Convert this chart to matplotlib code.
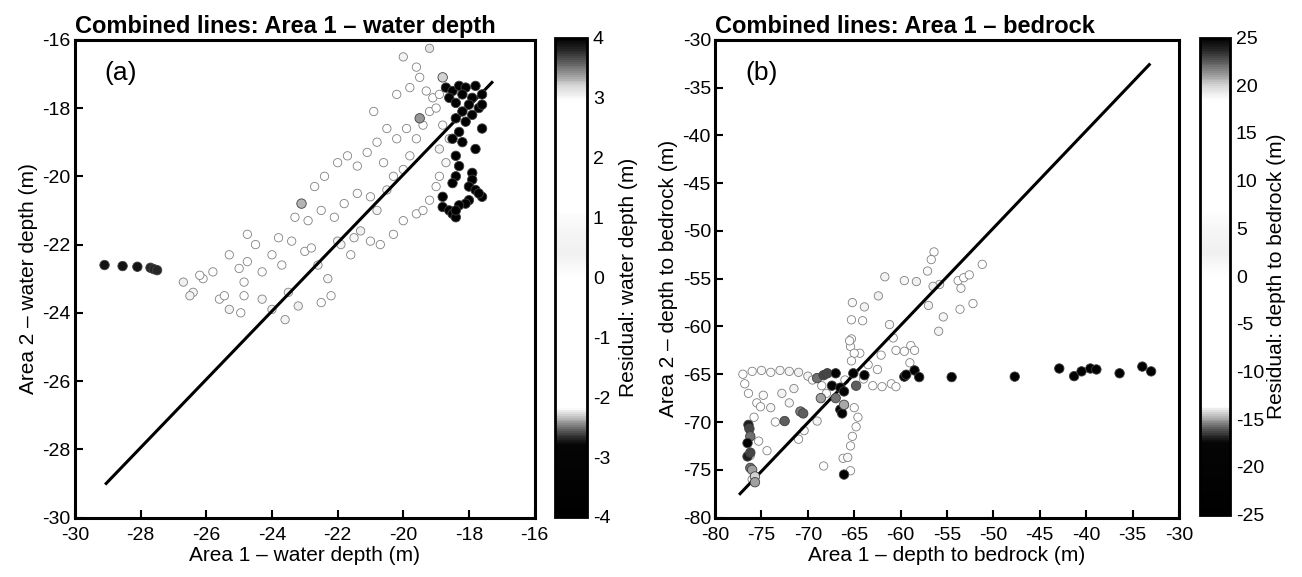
import numpy as np
import matplotlib
matplotlib.use('Agg')
import matplotlib.pyplot as plt
from matplotlib.colors import LinearSegmentedColormap

plt.rcParams['font.family'] = ['Liberation Sans', 'DejaVu Sans']
plt.rcParams['axes.unicode_minus'] = False

# ---- panel (a): water depth ----
# light points (small residual)
wa_x = [-26.7, -26.4, -26.1, -25.8, -25.6, -25.45, -25.3, -25.3, -24.95, -24.85,
        -24.85, -24.75, -24.75, -24.5, -24.3, -24.3, -24.0, -24.0, -23.8, -23.6,
        -23.5, -23.4, -23.3, -23.2, -23.0, -22.9, -22.8, -22.7, -22.6, -22.5,
        -22.5, -22.4, -22.3, -22.1, -22.0, -22.0, -21.9, -21.8, -21.7, -21.6,
        -21.5, -21.4, -21.4, -21.3, -21.1, -21.0, -21.0, -20.9, -20.8, -20.8,
        -20.7, -20.6, -20.5, -20.5, -20.3, -20.3, -20.2, -20.2, -20.0, -20.0,
        -19.9, -19.8, -19.8, -19.6, -19.6, -19.6, -19.5, -19.4, -19.4, -19.3,
        -19.2, -19.2, -19.2, -19.1, -19.0, -19.0, -18.9, -18.9, -18.9, -18.8,
        -18.7, -18.6, -26.5, -26.2, -25.0, -23.7, -22.2, -20.0]
wa_y = [-23.1, -23.4, -23.0, -22.8, -23.6, -23.5, -23.9, -22.3, -24.0, -23.5,
        -23.1, -22.5, -21.7, -22.0, -22.8, -23.6, -23.9, -22.3, -21.8, -24.2,
        -23.4, -21.9, -21.2, -23.8, -22.2, -21.3, -22.1, -20.3, -22.6, -21.0,
        -23.7, -20.0, -23.0, -21.2, -19.6, -21.9, -22.0, -20.8, -19.4, -22.3,
        -21.8, -19.7, -20.5, -21.6, -19.3, -20.6, -21.9, -18.1, -19.0, -21.0,
        -22.0, -19.6, -18.6, -20.4, -20.0, -21.7, -17.6, -18.9, -19.8, -21.3,
        -18.6, -19.4, -17.4, -18.9, -16.8, -21.1, -17.1, -18.5, -21.0, -17.5,
        -16.25, -18.1, -20.7, -17.7, -18.0, -20.3, -17.6, -19.2, -20.0, -18.5,
        -19.6, -18.9, -23.5, -22.9, -22.7, -22.6, -23.5, -16.5]
wa_r = [0.4, 0.8, 1.2, 1.5, 1.0, 1.8, 0.6, 1.9, 1.4, 1.7,
        2.0, 2.2, 2.0, 1.6, 1.1, 0.7, 0.5, 1.4, 1.8, 0.3,
        0.6, 1.5, 1.9, 0.4, 1.0, 1.6, 1.2, 2.1, 0.5, 1.3,
        -0.4, 1.8, 0.2, 1.1, 2.0, 0.6, 0.3, 1.3, 1.9, -0.5,
        0.2, 1.5, 1.0, 0.4, 1.7, 1.0, 0.0, 2.4, 1.9, 0.6,
        -0.6, 1.4, 2.0, 0.8, 1.0, -0.4, 2.6, 1.8, 1.0, -0.2,
        1.9, 1.2, 2.6, 1.4, 2.9, -0.8, 2.8, 1.6, -0.9, 2.4,
        3.1, 1.8, -0.6, 2.2, 1.7, -0.4, 2.0, 0.6, -0.3, 1.0,
        0.2, 0.5, 0.6, 1.4, 1.8, 1.0, -0.3, 3.0]
# dark points (large residual)
wd_x = [-29.1, -28.55, -28.1, -27.7, -27.6, -27.5,
        -18.7, -18.5, -18.3, -18.1, -17.8, -17.6, -17.9, -18.2, -18.6, -18.4,
        -18.0, -17.7, -18.2, -17.9, -18.4, -18.1, -17.6, -18.3, -18.5, -18.2,
        -17.8, -18.4, -18.3, -18.4, -17.9, -18.5, -17.9, -18.0, -17.8, -17.6,
        -17.7, -18.0, -18.1, -18.3, -18.8, -18.8, -18.6, -18.5, -18.4, -18.4,
        -17.6, -23.1, -19.5, -18.8]
wd_y = [-22.6, -22.63, -22.65, -22.68, -22.72, -22.75,
        -17.4, -17.5, -17.35, -17.4, -17.35, -17.6, -17.7, -17.6, -17.7, -17.85,
        -17.9, -18.0, -18.1, -18.2, -18.3, -18.4, -18.6, -18.7, -18.9, -19.0,
        -19.2, -19.4, -19.7, -20.0, -19.9, -20.2, -20.1, -20.3, -20.4, -20.6,
        -20.5, -20.7, -20.8, -20.85, -20.6, -20.9, -21.0, -21.1, -21.2, -21.0,
        -17.9, -20.8, -18.3, -17.1]
wd_r = [3.9, 3.9, 3.9, 3.8, 3.8, 3.8,
        -3.0, -3.6, -3.8, -3.7, -3.9, -3.8, -3.9, -3.6, -3.2, -3.7,
        -3.9, -3.8, -3.8, -3.9, -3.6, -3.9, -4.0, -3.8, -3.5, -3.9,
        -4.0, -3.8, -3.9, -4.0, -4.0, -3.9, -4.0, -4.0, -4.0, -4.0,
        -4.0, -4.0, -4.0, -4.0, -3.9, -3.9, -4.0, -4.0, -4.0, -4.0,
        -3.9, 3.3, 3.4, 3.2]
wline_x = [-29.05, -17.3]
wline_y = [-29.0, -17.25]

# ---- panel (b): depth to bedrock ----
ba_x = [-56.4, -56.7, -57.1, -51.2, -61.7, -59.6, -58.3, -55.8, -53.8, -53.2,
        -52.6, -53.5, -62.4, -65.2, -63.9, -52.2, -53.6, -55.4, -65.3, -64.1,
        -61.2, -55.9, -65.3, -60.5, -62.1, -64.4, -58.9, -58.5, -65.4, -60.8,
        -59.6, -59.0, -57.0, -56.5,
        -77.0, -76.0, -75.0, -74.0, -73.0, -72.0, -71.0, -70.0, -69.5, -68.5,
        -66.0, -64.0, -63.0, -62.0, -61.0, -60.5, -76.8, -76.4, -75.5, -75.1,
        -75.8, -74.8, -74.0, -75.3, -74.4, -72.8, -71.5, -70.4, -71.0, -69.0,
        -68.3, -66.2, -65.7, -65.4, -65.5, -65.0, -65.3, -65.0, -64.6, -64.8,
        -65.2, -65.4, -76.2, -76.0, -73.5, -72.0, -68.0, -63.5, -62.5]
ba_y = [-52.2, -53.0, -54.2, -53.5, -54.8, -55.2, -55.3, -55.6, -55.2, -54.9,
        -54.6, -56.0, -56.8, -57.5, -57.95, -57.6, -58.2, -59.0, -59.3, -59.4,
        -59.8, -60.5, -61.3, -62.5, -63.0, -62.8, -62.0, -62.5, -62.1, -61.2,
        -62.6, -63.8, -57.8, -55.8,
        -65.0, -64.7, -64.6, -64.8, -64.6, -64.7, -64.8, -65.2, -65.6, -66.2,
        -65.6, -65.5, -66.2, -66.3, -66.0, -66.3, -66.0, -67.0, -68.0, -68.4,
        -69.5, -67.2, -68.5, -72.0, -73.0, -67.0, -66.5, -70.9, -71.8, -69.9,
        -74.6, -73.8, -73.7, -75.1, -61.5, -62.8, -63.6, -68.5, -69.5, -70.5,
        -71.5, -72.5, -73.5, -76.0, -70.0, -68.0, -67.0, -64.0, -64.5]
ba_r = [8, 7, 6, 12, 4, 5, 3, 2, 9, 10,
        11, 6, 3, 1, 2, 8, 7, 5, -1, 0,
        1, 4, -2, -3, -4, -3, -1, -2, -2, -1,
        -3, -5, 2, 3,
        8, 7, 6, 6, 5, 4, 3, 2, 1, 0,
        -4, -6, -7, -8, -8, -9, 9, 9, 8, 7,
        10, 6, 5, 11, 10, 4, 3, 6, 7, 4,
        8, 6, 5, 7, -1, -2, -3, -8, -9, -10,
        -10, -11, 12, 12, 8, 5, 1, -4, -6]
bd_x = [-54.5, -47.7, -42.9, -41.3, -40.5, -39.55, -38.9, -36.4, -33.95, -33.0,
        -59.6, -59.4, -58.5, -58.0, -63.9, -65.1, -69.0, -68.3, -67.9, -67.0,
        -67.4, -66.5, -66.1, -67.0, -68.6, -66.5, -66.3, -66.1, -76.4, -76.3,
        -76.2, -76.5, -76.5, -76.2, -76.2, -76.0, -75.7, -75.7, -72.5, -70.8,
        -70.5, -66.1, -64.8]
bd_y = [-65.3, -65.25, -64.4, -65.2, -64.7, -64.4, -64.5, -64.9, -64.2, -64.7,
        -65.25, -65.05, -64.6, -65.3, -65.1, -64.9, -65.4, -65.1, -64.9, -64.9,
        -66.2, -66.4, -66.8, -67.5, -67.5, -68.7, -69.1, -75.5, -70.3, -70.7,
        -71.5, -72.2, -73.6, -73.2, -74.8, -75.0, -75.7, -76.3, -69.9, -68.9,
        -69.1, -68.2, -66.2]
bd_r = [-25, -25, -24, -25, -25, -25, -25, -25, -25, -25,
        -24, -23, -22, -23, -20, -19, 22, 23, 23, -20,
        -21, -22, -20, 22, 21, -22, -21, -24, 24, 23,
        22, 25, 24, 23, 22, 21, 20, 21, -16, -15.5,
        -16, -15, -16]
bline_x = [-77.3, -33.2]
bline_y = [-77.5, -32.6]

# grey residual scale: black at both ends, white in the middle
res_cmap = LinearSegmentedColormap.from_list('res', [
    (0.0, '#000000'), (0.15, '#050505'), (0.175, '#4a4a4a'), (0.2, '#a8a8a8'),
    (0.225, '#ffffff'), (0.5, '#ffffff'), (0.55, '#f0f0f0'), (0.6, '#f6f6f6'),
    (0.64, '#ffffff'), (0.87, '#ffffff'), (0.9, '#d8d8d8'), (0.93, '#8a8a8a'),
    (0.97, '#303030'), (1.0, '#000000')])

fig = plt.figure(figsize=(13.02, 5.77), dpi=100)
ax1 = fig.add_axes([0.0576, 0.103, 0.353, 0.828])
cax1 = fig.add_axes([0.4265, 0.104, 0.0245, 0.831])
ax2 = fig.add_axes([0.5492, 0.103, 0.3563, 0.828])
cax2 = fig.add_axes([0.9217, 0.108, 0.0232, 0.827])

panels = [
    (ax1, cax1, wa_x, wa_y, wa_r, wd_x, wd_y, wd_r, wline_x, wline_y, 4,
     np.arange(-30, -15, 2), np.arange(-4, 5, 1), '(a)',
     'Combined lines: Area 1 \u2013 water depth',
     'Area 1 \u2013 water depth (m)', 'Area 2 \u2013 water depth (m)',
     'Residual: water depth (m)', (-30, -16), 6),
    (ax2, cax2, ba_x, ba_y, ba_r, bd_x, bd_y, bd_r, bline_x, bline_y, 25,
     np.arange(-80, -29, 5), np.arange(-25, 26, 5), '(b)',
     'Combined lines: Area 1 \u2013 bedrock',
     'Area 1 \u2013 depth to bedrock (m)', 'Area 2 \u2013 depth to bedrock (m)',
     'Residual: depth to bedrock (m)', (-80, -30), 2),
]

for (ax, cax, lx, ly, lr, dx, dy, dr, linex, liney, vm, ticks, cticks, tag,
     title, xlab, ylab, clab, lim, cpad) in panels:
    ax.scatter(lx, ly, c=lr, cmap=res_cmap, vmin=-vm, vmax=vm, s=36,
               edgecolors='0.5', linewidths=0.6, zorder=3)
    ax.plot(linex, liney, color='black', lw=2.2, zorder=4)
    sc = ax.scatter(dx, dy, c=dr, cmap=res_cmap, vmin=-vm, vmax=vm, s=46,
                    edgecolors='0.25', linewidths=0.6, zorder=5)
    ax.set_xlim(lim)
    ax.set_ylim(lim)
    ax.set_xticks(ticks)
    ax.set_yticks(ticks)
    ax.tick_params(direction='in', length=6, width=1.5, labelsize=14)
    ax.tick_params(axis='x', pad=7)
    ax.tick_params(axis='y', pad=3)
    for sp in ax.spines.values():
        sp.set_linewidth(2.2)
    ax.set_xlabel(xlab, fontsize=15, labelpad=1)
    ax.set_ylabel(ylab, fontsize=15, labelpad=3)
    ax.set_title(title, loc='left', fontsize=17, fontweight='bold', pad=5)
    ax.text(0.065, 0.93, tag, transform=ax.transAxes, fontsize=19,
            ha='left', va='center')

    cb = fig.colorbar(sc, cax=cax, ticks=cticks)
    cb.outline.set_linewidth(2)
    cax.tick_params(length=0, labelsize=14, pad=4)
    cb.set_label(clab, fontsize=15, labelpad=cpad)

fig.savefig('out.png', dpi=100)
